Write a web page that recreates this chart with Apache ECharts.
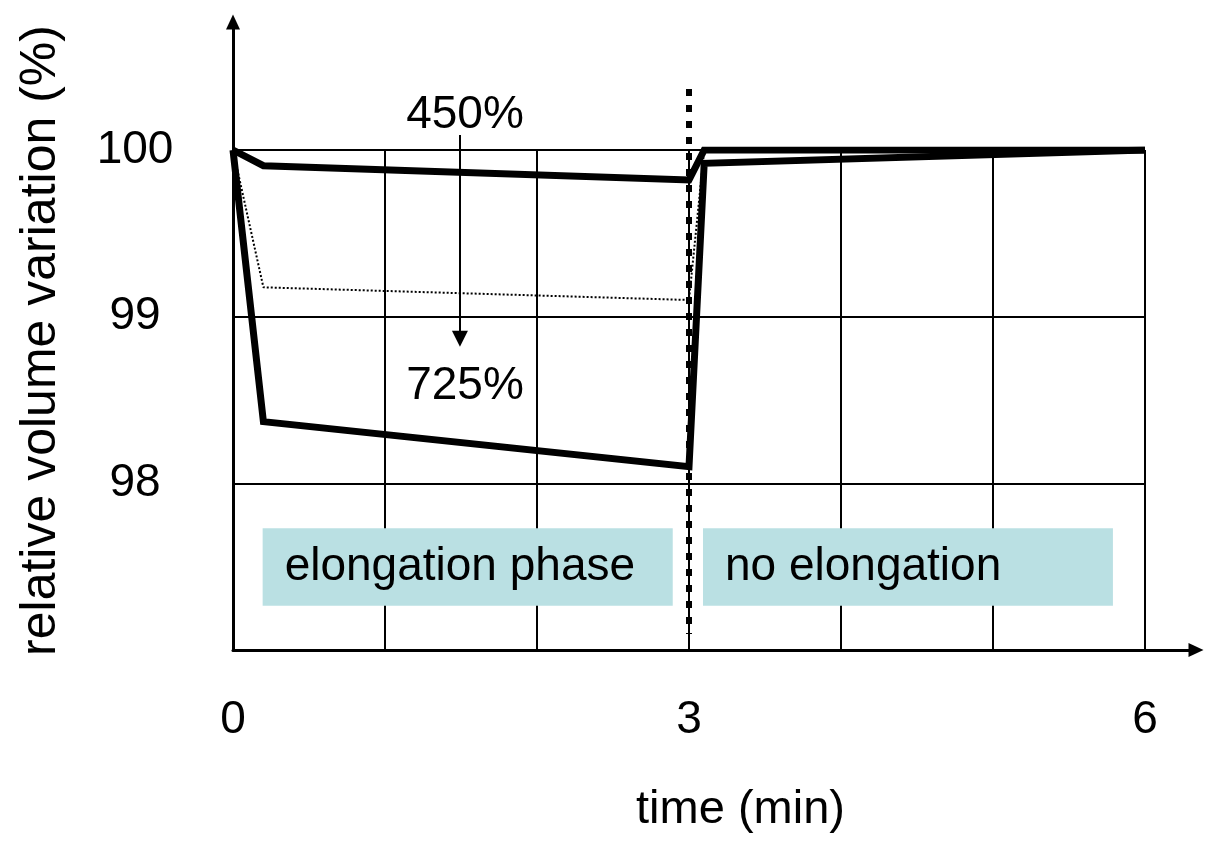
<!DOCTYPE html>
<html><head><meta charset="utf-8">
<script src="https://cdn.jsdelivr.net/npm/echarts@6/dist/echarts.min.js"></script>
<style>html,body{margin:0;padding:0;background:#fff}#c{width:1205px;height:841px}</style>
</head><body><div id="c"></div>
<script>
const FONT = '"Liberation Sans", Arial, Helvetica, sans-serif';

// time (min) and relative volume variation (%)
const time450 = [0, 0.2, 3, 3.1, 6];
const vol450  = [100, 99.906, 99.82, 100.0, 100.0];
const time725 = [0, 0.2, 3, 3.1, 6];
const vol725  = [100, 98.37, 98.1, 99.92, 100.0];
const timeMid = [0, 0.2, 3, 3.1, 6];
const volMid  = [100, 99.176, 99.1, 100.0, 100.0];

// phase boundary at 3 min
const boundaryTime = [3, 3];
const boundaryVol  = [100.366, 97.096];

// arrow 450% -> 725%
const arrowTime = [1.493, 1.493];
const arrowVol  = [100.09, 98.868];
const annotTexts = ['450%', '725%'];
const annotTime  = [1.526, 1.526];
const annotVol   = [100.21, 98.58];

// phase boxes
const phaseNames = ['elongation phase', 'no elongation'];
const phaseStart = [0.195, 3.092];
const phaseEnd   = [2.893, 5.789];
const phaseLow = 97.266, phaseHigh = 97.73;

const xTickLabels = {0: '0', 3: '3', 6: '6'};
const yTickLabels = {98: '98', 99: '99', 100: '100'};

const zip = (a, b) => a.map((v, i) => [v, b[i]]);

// main plot box: 0..6 min, 97..100 %
const X0 = 233, Y0 = 650, PX_PER_MIN = 152, PX_PER_PCT = 500 / 3;
// outer axis frame (arrow ends)
const outerWidth = 963, outerHeight = 628;

const chart = echarts.init(document.getElementById('c'), null, {renderer: 'canvas'});
const thick = {color: '#000', width: 7, type: 'solid', join: 'miter', miterLimit: 6, cap: 'butt'};

chart.setOption({
  animation: false,
  backgroundColor: '#fff',
  textStyle: {fontFamily: FONT, color: '#000'},
  grid: [
    {left: X0, top: Y0 - 500, width: 6 * PX_PER_MIN, height: 500, outerBoundsMode: 'none', containLabel: false},
    {left: X0, top: Y0 - outerHeight, width: outerWidth, height: outerHeight, outerBoundsMode: 'none', containLabel: false}
  ],
  xAxis: [
    {gridIndex: 0, type: 'value', min: 0, max: 6, interval: 1,
     axisLine: {show: false}, axisTick: {show: false},
     splitLine: {show: true, lineStyle: {color: '#000', width: 2}},
     axisLabel: {formatter: v => xTickLabels[v] ?? '', fontSize: 46, color: '#000', margin: 47, fontFamily: FONT}},
    {gridIndex: 1, type: 'value', min: 0, max: outerWidth / PX_PER_MIN,
     axisLine: {show: true, onZero: false, symbol: ['none', 'triangle'], symbolSize: [14, 15],
                lineStyle: {color: '#000', width: 3}},
     axisTick: {show: false}, axisLabel: {show: false}, splitLine: {show: false},
     name: 'time (min)', nameLocation: 'middle', nameGap: 137, nameMoveOverlap: false,
     nameTextStyle: {fontSize: 47, color: '#000', fontFamily: FONT, padding: [0, 0, 0, 52]}}
  ],
  yAxis: [
    {gridIndex: 0, type: 'value', min: 97, max: 100, interval: 1,
     axisLine: {show: false}, axisTick: {show: false},
     splitLine: {show: true, lineStyle: {color: '#000', width: 2}},
     axisLabel: {formatter: v => yTickLabels[v] ?? '', fontSize: 46, color: '#000', align: 'center', margin: 98,
                 padding: [12, 0, 0, 0], fontFamily: FONT}},
    {gridIndex: 1, type: 'value', min: 97, max: 97 + outerHeight / PX_PER_PCT,
     axisLine: {show: true, onZero: false, symbol: ['none', 'triangle'], symbolSize: [14, 15],
                lineStyle: {color: '#000', width: 3}},
     axisTick: {show: false}, axisLabel: {show: false}, splitLine: {show: false},
     name: 'relative volume variation (%)', nameLocation: 'middle', nameGap: 167, nameMoveOverlap: false,
     nameTextStyle: {fontSize: 50, color: '#000', fontFamily: FONT, padding: [0, 9, 0, 0]}}
  ],
  series: [
    {
      name: 'annotations', type: 'line', xAxisIndex: 1, yAxisIndex: 1, data: [], clip: false, z: 2, silent: true,
      markArea: {
        silent: true,
        itemStyle: {color: '#bae0e3'},
        label: {show: true, position: 'insideLeft', distance: 22, fontSize: 46, color: '#000', fontFamily: FONT},
        data: phaseNames.map((n, i) => [
          {name: n, coord: [phaseStart[i], phaseHigh]},
          {coord: [phaseEnd[i], phaseLow]}
        ])
      },
      markLine: {
        silent: true,
        symbol: ['none', 'triangle'], symbolSize: 16,
        lineStyle: {color: '#000', width: 2, type: 'solid'},
        label: {show: false},
        data: [[{coord: [arrowTime[0], arrowVol[0]]}, {coord: [arrowTime[1], arrowVol[1]]}]]
      },
      markPoint: {
        silent: true,
        symbol: 'circle', symbolSize: 1,
        itemStyle: {color: 'rgba(0,0,0,0)'},
        label: {show: true, position: 'inside', formatter: '{b}', fontSize: 46, color: '#000', fontFamily: FONT},
        data: annotTexts.map((t, i) => ({name: t, coord: [annotTime[i], annotVol[i]]}))
      }
    },
    {name: 'intermediate', type: 'line', data: zip(timeMid, volMid), symbol: 'none', z: 3, silent: true,
     lineStyle: {color: '#000', width: 2, type: [2, 2]}},
    {name: '725%', type: 'line', data: zip(time725, vol725), symbol: 'none', z: 4, silent: true, lineStyle: thick},
    {name: '450%', type: 'line', data: zip(time450, vol450), symbol: 'none', z: 4, silent: true, lineStyle: thick},
    {name: 'boundary', type: 'line', xAxisIndex: 1, yAxisIndex: 1, data: zip(boundaryTime, boundaryVol),
     symbol: 'none', z: 5, silent: true,
     lineStyle: {color: '#000', width: 6, type: [7, 9], cap: 'butt'}}
  ]
});
</script></body></html>
